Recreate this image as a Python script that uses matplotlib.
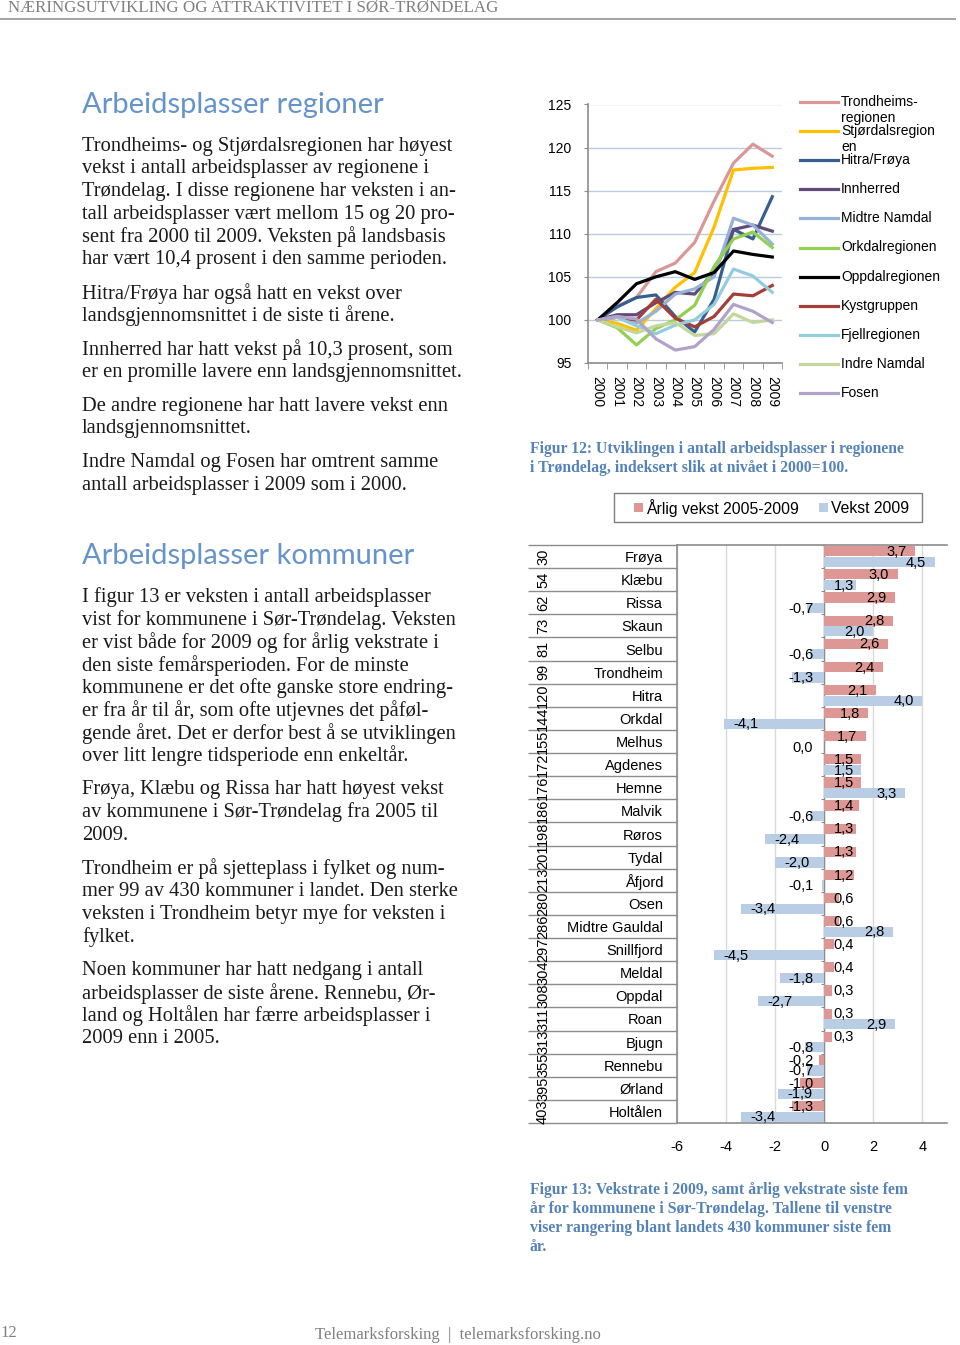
import numpy as np
import matplotlib
matplotlib.use('Agg')
from matplotlib import pyplot as plt
from matplotlib.lines import Line2D
from matplotlib.patches import Rectangle
import matplotlib.transforms as mtransforms

plt.rcParams['font.family'] = ['Liberation Sans', 'DejaVu Sans']
plt.rcParams['axes.unicode_minus'] = False

# ---- Figur 12: arbeidsplasser i regionene, indeks 2000 = 100
years = ['2000', '2001', '2002', '2003', '2004', '2005', '2006', '2007', '2008', '2009']
legend_labels = ['Trondheims-\nregionen', 'Stjørdalsregion\nen', 'Hitra/Frøya', 'Innherred',
                 'Midtre Namdal', 'Orkdalregionen', 'Oppdalregionen', 'Kystgruppen',
                 'Fjellregionen', 'Indre Namdal', 'Fosen']
trondheim = [100, 101.6, 102.6, 105.6, 106.6, 109.0, 113.8, 118.2, 120.4, 119.0]
stjordal = [100, 99.6, 98.8, 101.3, 103.8, 105.5, 110.8, 117.4, 117.6, 117.7]
hitra_froya = [100, 101.5, 102.6, 102.9, 100.4, 98.6, 102.4, 110.5, 109.4, 114.3]
innherred = [100, 100.6, 100.6, 102.0, 103.2, 103.0, 105.6, 110.5, 111.0, 110.3]
midtre_namdal = [100, 100.4, 99.6, 101.0, 103.0, 103.6, 105.0, 111.8, 111.0, 108.8]
orkdal_reg = [100, 99.1, 97.1, 99.0, 100.0, 101.7, 106.2, 109.4, 110.2, 108.4]
oppdal_reg = [100, 102.0, 104.2, 105.0, 105.6, 104.7, 105.5, 108.0, 107.6, 107.3]
kystgruppen = [100, 100.3, 100.0, 102.4, 100.2, 99.2, 100.4, 103.0, 102.8, 104.0]
fjellregionen = [100, 100.3, 99.3, 98.4, 99.4, 100.0, 101.8, 105.9, 105.1, 103.2]
indre_namdal = [100, 99.2, 98.5, 99.3, 99.7, 98.2, 98.4, 100.7, 99.7, 100.0]
fosen = [100, 100.4, 100.1, 97.8, 96.5, 96.9, 98.9, 101.8, 101.0, 99.7]
region_values = [trondheim, stjordal, hitra_froya, innherred, midtre_namdal, orkdal_reg,
                 oppdal_reg, kystgruppen, fjellregionen, indre_namdal, fosen]
region_colors = ['#D99795', '#FFC000', '#376092', '#604A7B', '#95B3D7', '#92D050',
                 '#000000', '#A33E3B', '#93CDDD', '#C3D69B', '#B3A2C7']

# ---- Figur 13: vekst i kommunene
kommuner = ['Frøya', 'Klæbu', 'Rissa', 'Skaun', 'Selbu', 'Trondheim', 'Hitra', 'Orkdal',
            'Melhus', 'Agdenes', 'Hemne', 'Malvik', 'Røros', 'Tydal', 'Åfjord', 'Osen',
            'Midtre Gauldal', 'Snillfjord', 'Meldal', 'Oppdal', 'Roan', 'Bjugn', 'Rennebu',
            'Ørland', 'Holtålen']
rangering = [30, 54, 62, 73, 81, 99, 120, 144, 155, 172, 176, 186, 198, 201, 213, 280,
             286, 297, 304, 308, 311, 313, 355, 395, 403]
arlig_vekst = [3.7, 3.0, 2.9, 2.8, 2.6, 2.4, 2.1, 1.8, 1.7, 1.5, 1.5, 1.4, 1.3, 1.3, 1.2,
               0.6, 0.6, 0.4, 0.4, 0.3, 0.3, 0.3, -0.2, -1.0, -1.3]
vekst_2009 = [4.5, 1.3, -0.7, 2.0, -0.6, -1.3, 4.0, -4.1, 0.0, 1.5, 3.3, -0.6, -2.4, -2.0,
              -0.1, -3.4, 2.8, -4.5, -1.8, -2.7, 2.9, -0.8, -0.7, -1.9, -3.4]
bar_names = ['Årlig vekst 2005-2009', 'Vekst 2009']
bar_colors = ['#DD9896', '#B9CDE5']

W, H = 960, 1345
SERIF = ['Liberation Serif', 'DejaVu Serif']
HEAD = ['Lato', 'DejaVu Sans']
BLUE_HEAD = '#6593CB'
BLUE_CAP = '#5582B8'
GREY = '#8C8C8C'


def fx(x):
    return x / W


def fy(y):
    return 1 - y / H


def paragraphs(paras, x, y0, step=22.7, gap=11):
    y = y0
    for para in paras:
        for line in para:
            fig.text(fx(x), fy(y), line, family=SERIF, fontsize=14.8, color='#1A1A1A', va='center')
            y += step
        y += gap


fig = plt.figure(figsize=(9.6, 13.45), dpi=100)

# header / footer
fig.text(fx(8), fy(8), 'NÆRINGSUTVIKLING OG ATTRAKTIVITET I SØR-TRØNDELAG',
         family=SERIF, fontsize=12.2, color='#808080', va='center')
fig.add_artist(Line2D([fx(0), fx(955)], [fy(19), fy(19)], color='#A6A6A6', lw=1.5))
fig.text(fx(0), fy(1333), '12', family=SERIF, fontsize=12, color='#808080', va='center')
fig.text(fx(315), fy(1335), 'Telemarksforsking  |  telemarksforsking.no',
         family=SERIF, fontsize=12, color='#808080', va='center')

# left column text
fig.text(fx(82), fy(105), 'Arbeidsplasser regioner', family=HEAD,
         fontsize=21, color=BLUE_HEAD, va='center')
paragraphs([
    ['Trondheims- og Stjørdalsregionen har høyest', 'vekst i antall arbeidsplasser av regionene i',
     'Trøndelag. I disse regionene har veksten i an-', 'tall arbeidsplasser vært mellom 15 og 20 pro-',
     'sent fra 2000 til 2009. Veksten på landsbasis', 'har vært 10,4 prosent i den samme perioden.'],
    ['Hitra/Frøya har også hatt en vekst over', 'landsgjennomsnittet i de siste ti årene.'],
    ['Innherred har hatt vekst på 10,3 prosent, som', 'er en promille lavere enn landsgjennomsnittet.'],
    ['De andre regionene har hatt lavere vekst enn', 'landsgjennomsnittet.'],
    ['Indre Namdal og Fosen har omtrent samme', 'antall arbeidsplasser i 2009 som i 2000.'],
], 82, 146)

fig.text(fx(82), fy(556), 'Arbeidsplasser kommuner', family=HEAD,
         fontsize=21, color=BLUE_HEAD, va='center')
paragraphs([
    ['I figur 13 er veksten i antall arbeidsplasser', 'vist for kommunene i Sør-Trøndelag. Veksten',
     'er vist både for 2009 og for årlig vekstrate i', 'den siste femårsperioden. For de minste',
     'kommunene er det ofte ganske store endring-', 'er fra år til år, som ofte utjevnes det påføl-',
     'gende året. Det er derfor best å se utviklingen', 'over litt lengre tidsperiode enn enkeltår.'],
    ['Frøya, Klæbu og Rissa har hatt høyest vekst', 'av kommunene i Sør-Trøndelag fra 2005 til', '2009.'],
    ['Trondheim er på sjetteplass i fylket og num-', 'mer 99 av 430 kommuner i landet. Den sterke',
     'veksten i Trondheim betyr mye for veksten i', 'fylket.'],
    ['Noen kommuner har hatt nedgang i antall', 'arbeidsplasser de siste årene. Rennebu, Ør-',
     'land og Holtålen har færre arbeidsplasser i', '2009 enn i 2005.'],
], 82, 597)

# ---- line chart
ax1 = fig.add_axes([fx(588), fy(363), (782 - 588) / W, (363 - 104.5) / H])
x = np.arange(len(years))
for vals, col in zip(region_values, region_colors):
    ax1.plot(x, vals, color=col, lw=2.3)
ax1.set_xlim(-0.5, len(years) - 0.5)
ax1.set_ylim(95, 125)
ax1.set_yticks(range(95, 126, 5))
ax1.yaxis.grid(True, color='#B9CCE0', lw=1)
ax1.set_axisbelow(True)
ax1.set_xticks(x)
ax1.set_xticklabels(years, rotation=-90, fontsize=10)
ax1.set_xticks(np.arange(-0.5, len(years), 1), minor=True)
ax1.tick_params(axis='x', which='major', length=0, pad=9)
ax1.tick_params(axis='x', which='minor', length=4, color=GREY)
ax1.tick_params(axis='y', length=3, pad=9, labelsize=10, color=GREY)
for s in ['top', 'right']:
    ax1.spines[s].set_visible(False)
for s in ['left', 'bottom']:
    ax1.spines[s].set_color(GREY)
    ax1.spines[s].set_linewidth(1.2)

for i, (lab, col) in enumerate(zip(legend_labels, region_colors)):
    y = 102 + i * 29.1
    fig.add_artist(Line2D([fx(800), fx(838)], [fy(y), fy(y)], color=col, lw=2.3))
    for k, part in enumerate(lab.split('\n')):
        fig.text(fx(841), fy(y + k * 16), part, fontsize=10, va='center')

fig.text(fx(530), fy(449), 'Figur 12: Utviklingen i antall arbeidsplasser i regionene',
         family=SERIF, fontsize=11.3, fontweight='bold', color=BLUE_CAP, va='center')
fig.text(fx(530), fy(468), 'i Trøndelag, indeksert slik at nivået i 2000=100.',
         family=SERIF, fontsize=11.3, fontweight='bold', color=BLUE_CAP, va='center')

# ---- bar chart
ax2 = fig.add_axes([fx(677), fy(1123), (947 - 677) / W, (1123 - 545) / H])
n = len(kommuner)
pos = np.arange(n)
ax2.barh(pos - 0.23, arlig_vekst, height=0.44, color=bar_colors[0], zorder=2)
ax2.barh(pos + 0.23, vekst_2009, height=0.44, color=bar_colors[1], zorder=2)
ax2.set_ylim(n - 0.5, -0.5)
ax2.set_xlim(-6, 5)
ax2.set_xticks([-6, -4, -2, 0, 2, 4])
ax2.xaxis.grid(True, color='#D9D9D9', lw=1)
ax2.set_axisbelow(True)
ax2.axvline(0, color=GREY, lw=1, zorder=1)
ax2.hlines(np.arange(-0.5, n), -0.14, 0, color=GREY, lw=0.8)
ax2.set_yticks(pos)
ax2.set_yticklabels(kommuner, fontsize=10.5)
ax2.tick_params(axis='y', length=0, pad=10)
ax2.tick_params(axis='x', length=0, pad=12, labelsize=10.5)
ax2.spines['right'].set_visible(False)
for s in ['left', 'top', 'bottom']:
    ax2.spines[s].set_color(GREY)
    ax2.spines[s].set_linewidth(1.2)

tr = mtransforms.blended_transform_factory(ax2.transAxes, ax2.transData)
xw = 947 - 677
for i, r in enumerate(rangering):
    ax2.text((543 - 677) / xw, i, str(r), rotation=90, ha='center', va='center',
             transform=tr, fontsize=10.5, clip_on=False)
ax2.hlines(np.arange(-0.5, n), (528 - 677) / xw, 0, transform=tr, color=GREY, lw=1, clip_on=False)


def bar_label(v, y):
    txt = f'{v:.1f}'.replace('.', ',')
    if v > 0:
        xp = max(v - 0.35, 1.2)
    else:
        xp = min(v + 1.4, -0.45)
    ax2.text(xp, y, txt, ha='right', va='center', fontsize=10.5, zorder=3)


for i in range(n):
    bar_label(arlig_vekst[i], pos[i] - 0.2)
    bar_label(vekst_2009[i], pos[i] + 0.26)

# legend box for the bar chart
fig.add_artist(Rectangle((fx(614), fy(522)), (922 - 614) / W, 29 / H, fill=False,
                         edgecolor='#7F7F7F', lw=1))
for name, col, sx in zip(bar_names, bar_colors, [634, 819]):
    fig.add_artist(Rectangle((fx(sx), fy(512)), 9 / W, 9 / H, color=col, lw=0))
    fig.text(fx(sx + 12), fy(508), name, fontsize=11.3, va='center')

caption13 = ['Figur 13: Vekstrate i 2009, samt årlig vekstrate siste fem',
             'år for kommunene i Sør-Trøndelag. Tallene til venstre',
             'viser rangering blant landets 430 kommuner siste fem',
             'år.']
for k, line in enumerate(caption13):
    fig.text(fx(530), fy(1190 + k * 19), line, family=SERIF, fontsize=11.3,
             fontweight='bold', color=BLUE_CAP, va='center')

fig.savefig('out.png', dpi=100)
